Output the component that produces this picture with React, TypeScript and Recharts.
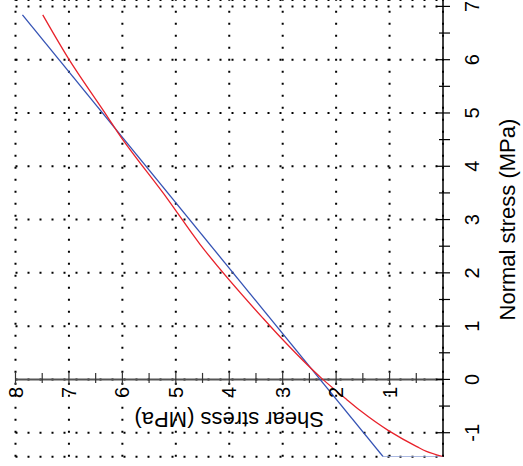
import React from "react";
import {
  LineChart,
  Line,
  XAxis,
  YAxis,
  CartesianGrid,
  ReferenceLine,
  ReferenceDot,
} from "recharts";

// axis ticks
const normalTicks = [-1, 0, 1, 2, 3, 4, 5, 6, 7];
const normalMinor = [-0.5, 0.5, 1.5, 2.5, 3.5, 4.5, 5.5, 6.5];
const shearGrid = [0, 1, 2, 3, 4, 5, 6, 7, 8];
const shearTicks = [1, 2, 3, 4, 5, 6, 7, 8];
const shearMinor = [0.5, 1.5, 2.5, 3.5, 4.5, 5.5, 6.5, 7.5];

// curved envelope (red)
const curveNormal = [-1.45, -1.35, -1.26, -0.96, -0.585, -0.38, 0.02, 0.8, 1.15, 2.54, 3.38, 4.64, 4.9, 5.99, 6.84];
const curveShear = [0, 0.31, 0.49, 1.02, 1.55, 1.8, 2.27, 3.05, 3.37, 4.55, 5.15, 6.09, 6.26, 6.99, 7.49];

// linear envelope (blue) and its tension cut-off
const linearNormal = [-1.45, 6.84];
const linearShear = [1.12, 7.87];
const cutNormal = [-1.45, -1.45];
const cutShear = [0, 1.12];

const curveData = curveNormal.map((n, i) => ({ n, s: curveShear[i] }));
const linearData = linearNormal.map((n, i) => ({ n, s: linearShear[i] }));
const cutData = cutNormal.map((n, i) => ({ n, s: cutShear[i] }));

const FONT = "'Liberation Sans', Arial, sans-serif";

const W = 466;
const H = 523;

const normalTick = (major: boolean) => (p: any) => (
  <line x1={p.cx} x2={p.cx} y1={p.cy - (major ? 7 : 4)} y2={p.cy + 7} stroke="#000" strokeWidth={1.2} />
);

const shearTick = (label: string | null) => (p: any) => (
  <g>
    <line
      x1={p.cx - (label ? 5.5 : 3.5)}
      x2={p.cx + (label ? 7.5 : 6.5)}
      y1={p.cy}
      y2={p.cy}
      stroke="#333"
      strokeWidth={1.2}
    />
    {label && (
      <text x={p.cx - 7.5} y={p.cy} textAnchor="end" dominantBaseline="central" fontSize={20} fontFamily={FONT} fill="#000">
        {label}
      </text>
    )}
  </g>
);

const shearTitle = (p: any) => (
  <text
    x={p.cx - 32.5}
    y={p.cy}
    transform={`rotate(-90, ${p.cx - 32.5}, ${p.cy})`}
    textAnchor="middle"
    fontSize={22}
    fontFamily={FONT}
    fill="#000"
  >
    Shear stress (MPa)
  </text>
);

const normalTitle = (p: any) => (
  <text x={p.cx} y={p.cy + 72} textAnchor="middle" fontSize={22} fontFamily={FONT} fill="#000">
    Normal stress (MPa)
  </text>
);

const App: React.FC = () => {
  return (
    <div style={{ position: "absolute", left: 0, top: 0, width: 523, height: 466, overflow: "hidden", background: "#fff" }}>
      <div
        style={{
          position: "absolute",
          left: 0,
          top: 0,
          width: W,
          height: H,
          transformOrigin: "0 0",
          transform: "translate(0px, 466px) rotate(-90deg)",
        }}
      >
        <LineChart width={W} height={H} margin={{ top: 15.5, right: 0, bottom: 0, left: 9.3 }}>
          <CartesianGrid stroke="#000" strokeWidth={2} strokeDasharray="2 10" />
          <XAxis
            type="number"
            dataKey="n"
            domain={[-1.45, 7.12]}
            ticks={normalTicks}
            allowDataOverflow
            height={80}
            axisLine={{ stroke: "#000", strokeWidth: 1.5 }}
            tickLine={false}
            tickSize={8}
            tickMargin={14}
            tick={{ fontSize: 20, fill: "#000", fontFamily: FONT }}
          />
          <YAxis type="number" dataKey="s" domain={[0, 8]} ticks={shearGrid} hide />
          <ReferenceLine x={0} stroke="#555" strokeWidth={2} />
          {normalTicks.map((n) => (
            <ReferenceDot key={`nt${n}`} x={n} y={0} r={0} ifOverflow="visible" shape={normalTick(true)} />
          ))}
          {normalMinor.map((n) => (
            <ReferenceDot key={`nm${n}`} x={n} y={0} r={0} ifOverflow="visible" shape={normalTick(false)} />
          ))}
          {shearTicks.map((s) => (
            <ReferenceDot key={`st${s}`} x={0} y={s} r={0} ifOverflow="visible" shape={shearTick(String(s))} />
          ))}
          {shearMinor.map((s) => (
            <ReferenceDot key={`sm${s}`} x={0} y={s} r={0} ifOverflow="visible" shape={shearTick(null)} />
          ))}
          <ReferenceDot x={0} y={4} r={0} ifOverflow="visible" shape={shearTitle} />
          <ReferenceDot x={3} y={0} r={0} ifOverflow="visible" shape={normalTitle} />
          <Line data={cutData} dataKey="s" type="linear" stroke="#8fa2d8" strokeWidth={1.5} dot={false} isAnimationActive={false} />
          <Line data={linearData} dataKey="s" type="linear" stroke="#3452b4" strokeWidth={1.3} dot={false} isAnimationActive={false} />
          <Line data={curveData} dataKey="s" type="monotone" stroke="#e8222b" strokeWidth={1.3} dot={false} isAnimationActive={false} />
        </LineChart>
      </div>
    </div>
  );
};

export default App;
